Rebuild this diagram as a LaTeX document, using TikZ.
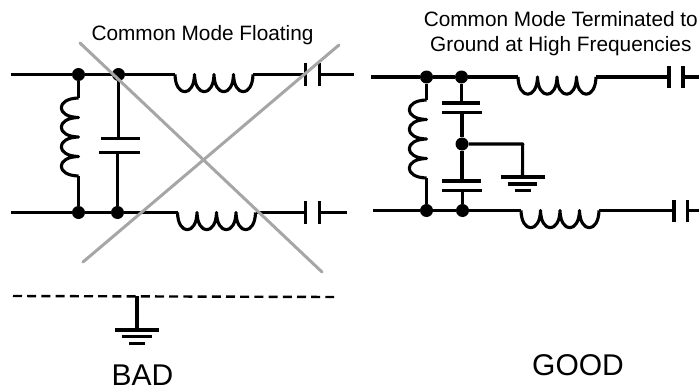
\documentclass[tikz,border=0pt]{standalone}
\usepackage{fontspec}
\setmainfont{Liberation Sans}
\tikzset{
  wire/.style={line width=3.1pt, line join=round},
  cross/.style={line width=3pt, color=black!35, line cap=round},
  jdot/.style={circle, fill=black, inner sep=0pt, minimum size=13pt},
  vplate/.style={rectangle, fill=black, inner sep=0pt, minimum width=3.1pt, minimum height=#1},
  hplate/.style={rectangle, fill=black, inner sep=0pt, minimum height=3.1pt, minimum width=#1},
  coil/.pic={
    \coordinate (-start) at (0,0);
    \coordinate (-end) at (78,0);
    \draw[wire] (0,0) .. controls (0.5,23) and (19,23) .. (19.5,0)
      .. controls (20,23) and (38.5,23) .. (39,0)
      .. controls (39.5,23) and (58,23) .. (58.5,0)
      .. controls (59,23) and (77.5,23) .. (78,0);
  },
  title/.style={font=\fontsize{20.8}{24}\selectfont, inner sep=0pt, anchor=base},
  verdict/.style={font=\fontsize{30}{34}\selectfont, inner sep=0pt, anchor=base}
}
\begin{document}
\begin{tikzpicture}[x=1pt,y=-1pt]
\useasboundingbox (0,0) rectangle (699,388);

% left circuit
\node[title] (ltitle) at (202.5,40.5) {Common Mode Floating};
\coordinate (lain) at (11,74.5);
\coordinate (lbin) at (11,212.5);
\coordinate (laout) at (354,74.5);
\coordinate (lbout) at (347,212.5);
\node[jdot] (la1) at (78.5,74.5) {};
\node[jdot] (la2) at (118.5,74.5) {};
\node[jdot] (lb1) at (78.5,212.5) {};
\node[jdot] (lb2) at (117.5,212.5) {};
\pic (lla) at (175,74.5) {coil};
\pic (llb) at (177.5,212.5) {coil};
\pic[rotate=-90] (llv) at (78.5,98) {coil};
\node[vplate=23pt] (lca1) at (305.5,74.5) {};
\node[vplate=23pt] (lca2) at (319.5,74.5) {};
\node[vplate=23pt] (lcb1) at (305.5,212.5) {};
\node[vplate=23pt] (lcb2) at (319.5,212.5) {};
\node[hplate=39pt] (lcv1) at (120,138.5) {};
\node[hplate=41pt] (lcv2) at (119,152.5) {};

\draw[wire] (lain) -- (la1) -- (la2) -- (lla-start);
\draw[wire] (lla-end) -- (lca1);
\draw[wire] (lca2) -- (laout);
\draw[wire] (lbin) -- (lb1) -- (lb2) -- (llb-start);
\draw[wire] (llb-end) -- (lcb1);
\draw[wire] (lcb2) -- (lbout);
\draw[wire] (la1) -- (llv-start);
\draw[wire] (llv-end) -- (lb1);
\draw[wire] (la2) -- (la2 |- lcv1);
\draw[wire] (lb2 |- lcv2) -- (lb2);

% right circuit
\node[title] (rtitlea) at (560.8,26.5) {Common Mode Terminated to};
\node[title] (rtitleb) at (560.8,51.5) {Ground at High Frequencies};
\coordinate (rain) at (371,77);
\coordinate (rbin) at (373,210.5);
\coordinate (raout) at (699,77);
\coordinate (rbout) at (699,210.5);
\node[jdot] (ra1) at (426.5,77) {};
\node[jdot] (ra2) at (461.5,77) {};
\node[jdot] (rb1) at (426.5,210.5) {};
\node[jdot] (rb2) at (462.5,210.5) {};
\node[jdot] (rm) at (462,144) {};
\pic (rla) at (518,77) {coil};
\pic (rlb) at (521,210.5) {coil};
\pic[rotate=-90] (rlv) at (426.5,100) {coil};
\node[vplate=22pt] (rca1) at (669,77) {};
\node[vplate=22pt] (rca2) at (683,77) {};
\node[vplate=22pt] (rcb1) at (674,210.5) {};
\node[vplate=22pt] (rcb2) at (687.5,210.5) {};
\node[hplate=38pt] (rcu1) at (461,103) {};
\node[hplate=40pt] (rcu2) at (462,112.7) {};
\node[hplate=39pt] (rcd1) at (461.5,181) {};
\node[hplate=40pt] (rcd2) at (462,190.3) {};
\coordinate (rcorner) at (522.7,144);
\node[hplate=44pt] (rg1) at (522.5,177) {};
\node[hplate=29pt] (rg2) at (522.5,184) {};
\node[hplate=16pt] (rg3) at (522.5,190.7) {};

\draw[wire] (rain) -- (ra1) -- (ra2) -- (rla-start);
\draw[wire] (rla-end) -- (rca1);
\draw[wire] (rca2) -- (raout);
\draw[wire] (rbin) -- (rb1) -- (rb2) -- (rlb-start);
\draw[wire] (rlb-end) -- (rcb1);
\draw[wire] (rcb2) -- (rbout);
\draw[wire] (ra1) -- (rlv-start);
\draw[wire] (rlv-end) -- (rb1);
\draw[wire] (ra2) -- (ra2 |- rcu1);
\draw[wire] (rm |- rcu2) -- (rm) -- (rm |- rcd1);
\draw[wire] (rb2 |- rcd2) -- (rb2);
\draw[wire] (rm) -- (rcorner) -- (rg1.center);

% plane and ground under the left circuit
\coordinate (pla) at (13,296);
\coordinate (plb) at (334,297);
\coordinate (plg) at (137,296);
\node[hplate=44pt] (lg1) at (137,330) {};
\node[hplate=30pt] (lg2) at (137,336.7) {};
\node[hplate=16pt] (lg3) at (137,343.3) {};
\draw[line width=2.4pt, dash pattern=on 9pt off 5.2pt] (pla) -- (plb);
\draw[wire] (plg) -- (lg1.center);

\node[verdict] (bad) at (142.5,385) {BAD};
\node[verdict] (good) at (578,375) {GOOD};

% crossing out
\coordinate (xa) at (80,43);
\coordinate (xb) at (322,272);
\coordinate (xc) at (83,262);
\coordinate (xd) at (339,45);
\draw[cross] (xa) -- (xb);
\draw[cross] (xc) -- (xd);
\end{tikzpicture}
\end{document}
